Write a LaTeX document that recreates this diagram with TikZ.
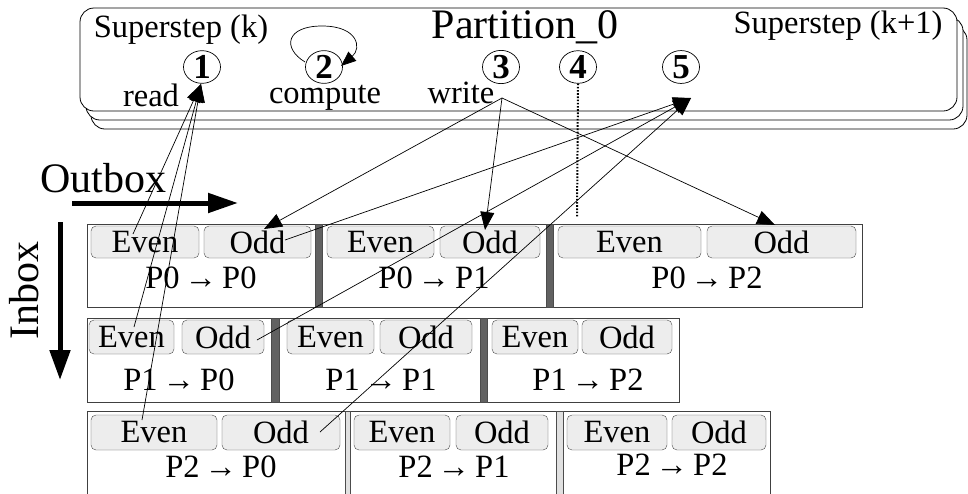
\documentclass[tikz,border=0pt]{standalone}
\usepackage{fontspec}
\setmainfont{Liberation Serif}
\usetikzlibrary{arrows.meta,shapes.geometric}
\newcommand{\arr}[2]{#1\hspace{5pt}→\hspace{5pt}#2}
\begin{document}
\begin{tikzpicture}[x=1pt,y=-1pt,
  conn/.style={line width=0.7pt},
  tipa/.style={-{Triangle[length=18pt,width=14pt]}},
  lbl/.style={font=\fontsize{32.5}{32.5}\selectfont, inner sep=0pt},
  big/.style={font=\fontsize{42}{42}\selectfont, inner sep=0pt},
  eo/.style={draw=black!70, fill=black!7, rounded corners=5pt, inner sep=0pt, font=\fontsize{32.5}{32.5}\selectfont},
  num/.style={draw, ellipse, line width=0.7pt, minimum width=37pt, minimum height=31pt, inner sep=0pt, font=\fontsize{35}{35}\selectfont\bfseries},
  frame/.style={draw=black!75, fill=white, line width=0.8pt},
  sepd/.style={fill=black!62, draw=black!70, line width=0.5pt},
  sepl/.style={fill=black!12, draw=black!70, line width=0.7pt},
  panel/.style={draw=black, fill=white, line width=0.8pt, rounded corners=14pt},
]
\useasboundingbox (0,0) rectangle (968,493);
\clip (0,0) rectangle (968,493);

% ---- top panel (stacked)
\draw[panel] (91,26) rectangle (967,129);
\draw[panel] (86,17) rectangle (963,120);
\draw[panel] (80,8) rectangle (957,111);

\node[lbl, anchor=base] (ssk) at (181,37) {Superstep (k)};
\node[big, anchor=base] (part) at (525,38) {Partition\_0};
\node[lbl, anchor=base] (ssk1) at (838,33) {Superstep (k+1)};

\node[num] (n1) at (202,67) {1};
\node[num] (n2) at (324,67) {2};
\node[num] (n3) at (501,67) {3};
\node[num] (n4) at (578,67) {4};
\node[num] (n5) at (681,67) {5};

\node[lbl, anchor=base] (read) at (151,106) {read};
\node[lbl, anchor=base] (comp) at (325,103) {compute};
\node[lbl, anchor=base] (writ) at (461,103) {write};

% self loop on 2
\draw[conn, -{Triangle[length=15pt,width=12pt]}] (305,62) .. controls (282,48) and (286,26) .. (322,26) .. controls (358,26) and (362,48) .. (341,66);

% dotted divider
\coordinate (dv) at (577,218);
\draw[line width=2pt, dash pattern=on 1.6pt off 1.6pt] (n4.south) -- (dv);

% ---- outbox / inbox
\node[big, anchor=base] (outb) at (103,192) {Outbox};
\coordinate (ob1) at (72,203);
\coordinate (ob2) at (238,203);
\draw[line width=5pt, -{Triangle[length=30pt,width=19pt]}] (ob1) -- (ob2);
\node[big, anchor=base, rotate=90] (inb) at (38,290) {Inbox};
\coordinate (ib1) at (60,222);
\coordinate (ib2) at (60,380);
\draw[line width=5pt, -{Triangle[length=30pt,width=20pt]}] (ib1) -- (ib2);

% ---- row 0
\draw[frame] (87,224) rectangle (862,307);
\draw[sepd] (315,224) rectangle (322,307);
\draw[sepd] (546,224) rectangle (553,307);
\node[eo, minimum width=108pt, minimum height=32pt] (e00) at (145,242) {Even};
\node[eo, minimum width=107pt, minimum height=32pt] (o00) at (257.5,242) {Odd};
\node[eo, minimum width=107pt, minimum height=32pt] (e01) at (380.5,242) {Even};
\node[eo, minimum width=100pt, minimum height=32pt] (o01) at (490,242) {Odd};
\node[eo, minimum width=143pt, minimum height=32pt] (e02) at (629.5,242) {Even};
\node[eo, minimum width=149pt, minimum height=32pt] (o02) at (781.5,242) {Odd};
\node[lbl, anchor=base] (l00) at (201,288) {\arr{P0}{P0}};
\node[lbl, anchor=base] (l01) at (434,288) {\arr{P0}{P1}};
\node[lbl, anchor=base] (l02) at (707,288) {\arr{P0}{P2}};

% ---- row 1
\draw[frame] (87,318) rectangle (679,402);
\draw[sepd] (271,318) rectangle (279,402);
\draw[sepd] (480,318) rectangle (487,402);
\node[eo, minimum width=85pt, minimum height=34pt] (e10) at (131.5,337) {Even};
\node[eo, minimum width=82pt, minimum height=34pt] (o10) at (223,337) {Odd};
\node[eo, minimum width=87pt, minimum height=34pt] (e11) at (330.5,337) {Even};
\node[eo, minimum width=92pt, minimum height=34pt] (o11) at (426,337) {Odd};
\node[eo, minimum width=86pt, minimum height=34pt] (e12) at (535,337) {Even};
\node[eo, minimum width=90pt, minimum height=34pt] (o12) at (627,337) {Odd};
\node[lbl, anchor=base] (l10) at (179,390) {\arr{P1}{P0}};
\node[lbl, anchor=base] (l11) at (381,390) {\arr{P1}{P1}};
\node[lbl, anchor=base] (l12) at (588,390) {\arr{P1}{P2}};

% ---- row 2
\draw[frame] (87,411) rectangle (770,500);
\draw[sepl] (345,411) rectangle (350,500);
\draw[sepl] (556,411) rectangle (563,500);
\node[eo, minimum width=126pt, minimum height=35pt] (e20) at (154,432.5) {Even};
\node[eo, minimum width=118pt, minimum height=35pt] (o20) at (281,432.5) {Odd};
\node[eo, minimum width=96pt, minimum height=35pt] (e21) at (402,432.5) {Even};
\node[eo, minimum width=92pt, minimum height=35pt] (o21) at (502,432.5) {Odd};
\node[eo, minimum width=100pt, minimum height=35pt] (e22) at (617,432.5) {Even};
\node[eo, minimum width=94pt, minimum height=35pt] (o22) at (719,432.5) {Odd};
\node[lbl, anchor=base] (l20) at (221,477) {\arr{P2}{P0}};
\node[lbl, anchor=base] (l21) at (454,477) {\arr{P2}{P1}};
\node[lbl, anchor=base] (l22) at (672,475) {\arr{P2}{P2}};

% ---- connectors
\coordinate (rtip) at (201,84);
\coordinate (ra) at (133,234);
\coordinate (rb) at (134,327);
\coordinate (rc) at (142,420);
\draw[conn, tipa] (ra) -- (rtip);
\draw[conn, tipa] (rb) -- (rtip);
\draw[conn, tipa] (rc) -- (rtip);

\coordinate (wsrc) at (502,98);
\coordinate (w1) at (264,229);
\coordinate (w2) at (485,230);
\coordinate (w3) at (775,225);
\draw[conn, tipa] (wsrc) -- (w1);
\draw[conn, tipa] (wsrc) -- (w2);
\draw[conn, tipa] (wsrc) -- (w3);

\coordinate (t5) at (691,98);
\coordinate (f1) at (285,240);
\coordinate (f2) at (257,340);
\coordinate (f3) at (320,432);
\draw[conn, tipa] (f1) -- (t5);
\draw[conn, tipa] (f2) -- (t5);
\draw[conn, tipa] (f3) -- (t5);
\end{tikzpicture}
\end{document}
